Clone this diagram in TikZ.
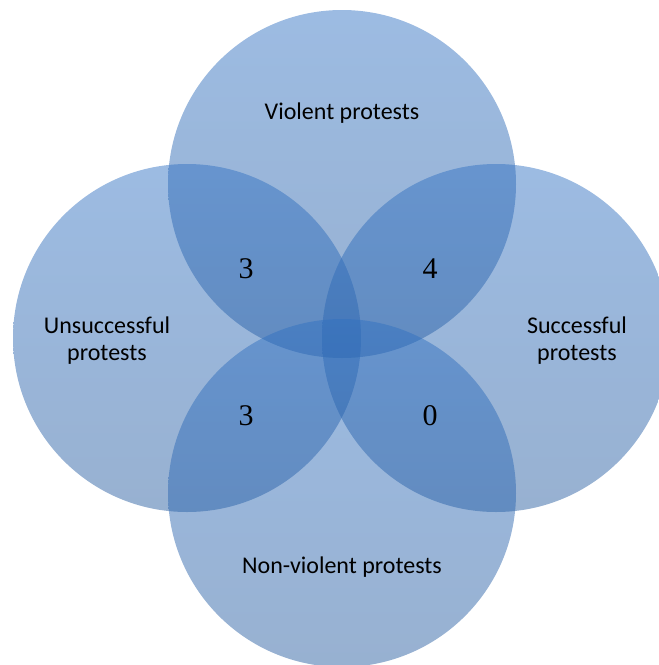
\documentclass[tikz,border=0pt]{standalone}
\usepackage{fontspec}
\setmainfont{Carlito}
\newfontfamily\numfont{Liberation Serif}
\usepackage{tikz}
\definecolor{vennTop}{RGB}{47,112,194}
\definecolor{vennBot}{RGB}{36,90,158}
\tikzset{
    venn/.style={top color=vennTop, bottom color=vennBot, fill opacity=0.475, draw=none},
    setlabel/.style={font=\fontsize{24}{27}\selectfont, align=center, text=black},
    count/.style={font=\numfont\fontsize{30}{30}\selectfont, text=black}
}

\begin{document}
\begin{tikzpicture}[x=1pt,y=-1pt]
    \useasboundingbox (0,0) rectangle (659,665);
    % the four sets
    \shade[venn] (342,184) coordinate (V) circle (174);
    \shade[venn] (187,338) coordinate (U) circle (174);
    \shade[venn] (496,338) coordinate (S) circle (174);
    \shade[venn] (342,493) coordinate (N) circle (174);
    % set names
    \node[setlabel] (violent) at (342,113) {Violent protests};
    \node[setlabel] (unsuccessful) at (107,341) {Unsuccessful\\protests};
    \node[setlabel] (successful) at (577,341) {Successful\\protests};
    \node[setlabel] (nonviolent) at (342,567) {Non-violent protests};
    % counts in the pairwise overlaps
    \node[count] (UV) at (246,269) {3};
    \node[count] (SV) at (430,269) {4};
    \node[count] (UN) at (246,416) {3};
    \node[count] (SN) at (430,416) {0};
\end{tikzpicture}
\end{document}
